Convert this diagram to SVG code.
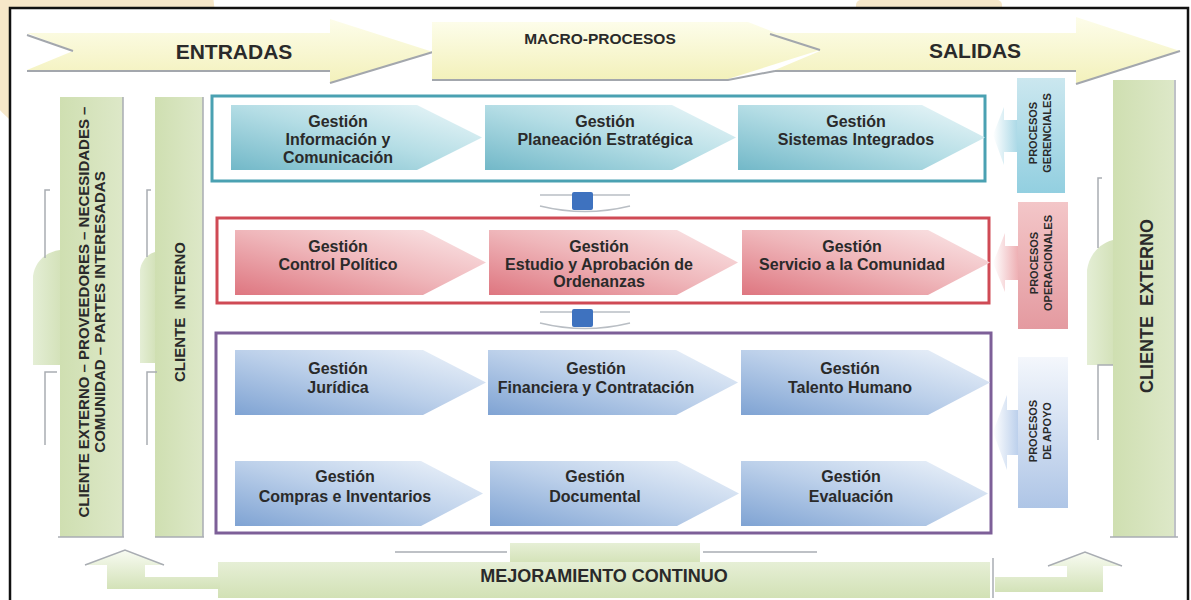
<svg xmlns="http://www.w3.org/2000/svg" width="1191" height="600" viewBox="0 0 1191 600">
<defs>
<linearGradient id="gY" x1="0" y1="0" x2="0" y2="1"><stop offset="0" stop-color="#fdfdea"/><stop offset="1" stop-color="#f3f1bb"/></linearGradient>
<linearGradient id="gG" x1="0" y1="0" x2="1" y2="0"><stop offset="0" stop-color="#cfdfb1"/><stop offset="1" stop-color="#dde8c8"/></linearGradient>
<linearGradient id="gGp" x1="0" y1="0" x2="1" y2="0"><stop offset="0" stop-color="#e4eed5"/><stop offset="1" stop-color="#d4e2ba"/></linearGradient>
<linearGradient id="gGv" x1="0" y1="0" x2="0" y2="1"><stop offset="0" stop-color="#e6efd6"/><stop offset="1" stop-color="#d2e1b5"/></linearGradient>
<linearGradient id="gT" x1="0" y1="1" x2="1" y2="0"><stop offset="0" stop-color="#72b8c8"/><stop offset="0.5" stop-color="#b4dde5"/><stop offset="1" stop-color="#eef8fa"/></linearGradient>
<linearGradient id="gR" x1="0" y1="1" x2="1" y2="0"><stop offset="0" stop-color="#de7680"/><stop offset="0.5" stop-color="#efb6ba"/><stop offset="1" stop-color="#fbe9ea"/></linearGradient>
<linearGradient id="gB" x1="0" y1="1" x2="1" y2="0"><stop offset="0" stop-color="#7fa3d3"/><stop offset="0.5" stop-color="#bcd0ea"/><stop offset="1" stop-color="#f0f5fb"/></linearGradient>
<linearGradient id="gLT" x1="0" y1="0" x2="0" y2="1"><stop offset="0" stop-color="#cbe7ef"/><stop offset="1" stop-color="#92cfe0"/></linearGradient>
<linearGradient id="gLR" x1="0" y1="0" x2="0" y2="1"><stop offset="0" stop-color="#f3c6c8"/><stop offset="1" stop-color="#e49aa0"/></linearGradient>
<linearGradient id="gLB" x1="0" y1="0" x2="0" y2="1"><stop offset="0" stop-color="#f4f7fc"/><stop offset="1" stop-color="#aec5e6"/></linearGradient>
<linearGradient id="gAT" x1="0" y1="0" x2="1" y2="0"><stop offset="0" stop-color="#ffffff"/><stop offset="1" stop-color="#a9d8e6"/></linearGradient>
<linearGradient id="gAR" x1="0" y1="0" x2="1" y2="0"><stop offset="0" stop-color="#ffffff"/><stop offset="1" stop-color="#eeb0b4"/></linearGradient>
<linearGradient id="gAB" x1="0" y1="0" x2="1" y2="0"><stop offset="0" stop-color="#ffffff"/><stop offset="1" stop-color="#bcd0ec"/></linearGradient>
<linearGradient id="gUp" x1="0" y1="0" x2="0" y2="1"><stop offset="0" stop-color="#f8fbf2"/><stop offset="1" stop-color="#d3e2b8"/></linearGradient>
<style>
.t{font-family:"Liberation Sans",Arial,sans-serif;font-weight:bold;fill:#2a2a2a}
.p{font-size:16px;text-anchor:middle}
.h{font-size:21px;text-anchor:middle}
.sh{fill:none;stroke:#a3a7ad;stroke-width:2}
.edge{fill:none;stroke:#a9adb3;stroke-width:1.5}
.fr{fill:none;stroke-width:3}
.lab{font-size:11px;text-anchor:middle}
</style>
</defs>

<!-- background & frame -->
<rect x="0" y="0" width="1191" height="600" fill="#ffffff"/>
<ellipse cx="90" cy="20" rx="125" ry="130" fill="#f6e7c9"/>
<rect x="856" y="0" width="146" height="12" rx="5" fill="#f6e7c9"/>
<rect x="10" y="8" width="1178" height="600" fill="#ffffff" stroke="#111111" stroke-width="2.5"/>

<!-- top arrows -->
<g id="entradas">
<polygon points="27,33 330,33 330,19 433,52 330,83 330,70 27,70 73,51" fill="url(#gY)"/>
<polyline class="sh" points="27,35 73,51"/>
<polyline class="sh" points="27,71 330,71"/>
<polyline class="sh" points="330,83 433,52"/>
<text class="t h" x="234" y="59">ENTRADAS</text>
</g>
<g id="salidas">
<polygon points="770,33 1076,33 1076,17 1180,51 1076,84 1076,70 775,70 820,51" fill="url(#gY)"/>
<polyline class="sh" points="775,71 1076,71"/>
<polyline class="sh" points="1076,84 1180,51"/>
<text class="t h" x="975" y="58">SALIDAS</text>
</g>
<g id="macro">
<polygon points="432,22 748,22 820,50 728,79 432,79" fill="url(#gY)"/>
<polyline class="sh" points="432,80 728,80 775,71"/>
<polyline class="sh" points="770,34 820,50"/>
<text class="t" x="600" y="44" font-size="15.5" text-anchor="middle">MACRO-PROCESOS</text>
</g>

<!-- left columns -->
<g id="col-externo-izq">
<path d="M60,250 C45,252 35,262 33,276 L33,365 L60,365 Z" fill="url(#gGp)"/>
<rect x="60" y="97" width="63" height="440" fill="url(#gG)"/>
<line class="edge" x1="123" y1="97" x2="123" y2="537"/>
<line class="edge" x1="58" y1="537" x2="124" y2="537"/>
<polyline class="edge" points="45,258 45,190 50,190"/>
<polyline class="edge" points="57,372 45,372 45,445"/>
<g transform="translate(91,312) rotate(-90)">
<text class="t" x="0" y="-2" font-size="15" text-anchor="middle">CLIENTE EXTERNO – PROVEEDORES – NECESIDADES –</text>
<text class="t" x="0" y="13.5" font-size="15" text-anchor="middle">COMUNIDAD – PARTES INTERESADAS</text>
</g>
</g>
<g id="col-interno">
<path d="M155,252 C147,254 141,262 140,270 L140,363 L155,363 Z" fill="url(#gGp)"/>
<rect x="155" y="97" width="48" height="440" fill="url(#gG)"/>
<line class="edge" x1="203" y1="97" x2="203" y2="537"/>
<line class="edge" x1="155" y1="537" x2="204" y2="537"/>
<polyline class="edge" points="147,257 147,190 151,190"/>
<polyline class="edge" points="157,372 147,372 147,445"/>
<text class="t" transform="translate(185,312) rotate(-90)" x="0" y="0" font-size="15" text-anchor="middle" xml:space="preserve">CLIENTE  INTERNO</text>
</g>

<!-- right column -->
<g id="col-externo-der">
<path d="M1113,240 C1098,244 1089,256 1087,270 L1087,365 L1113,365 Z" fill="url(#gGp)"/>
<rect x="1113" y="80" width="61" height="457" fill="url(#gG)"/>
<line class="edge" x1="1175" y1="80" x2="1175" y2="537"/>
<line class="edge" x1="1110" y1="537" x2="1178" y2="537"/>
<polyline class="edge" points="1098,248 1098,178 1102,178"/>
<polyline class="edge" points="1113,365 1098,365 1098,440"/>
<text class="t" transform="translate(1153,306) rotate(-90)" x="0" y="0" font-size="18" text-anchor="middle" xml:space="preserve">CLIENTE  EXTERNO</text>
</g>

<!-- process frames -->
<g id="frame-gerenciales"><rect class="fr" x="212" y="96" width="773" height="85" stroke="#4aa1b2"/></g>
<g id="frame-operacionales"><rect class="fr" x="217" y="218" width="772" height="85" stroke="#cf4a55"/></g>
<g id="frame-apoyo"><rect class="fr" x="216" y="333" width="775" height="200" stroke="#7d5f98"/></g>

<!-- connectors between frames -->
<g id="connectors">
<line x1="540" y1="195" x2="630" y2="195" stroke="#b9bec4" stroke-width="1.5"/>
<path d="M540,206 Q585,217 630,206" fill="none" stroke="#b9bec4" stroke-width="1.5"/>
<rect x="572" y="192" width="21" height="18" rx="2" fill="#3e72bf"/>
<line x1="540" y1="312" x2="630" y2="312" stroke="#b9bec4" stroke-width="1.5"/>
<path d="M540,323 Q585,334 630,323" fill="none" stroke="#b9bec4" stroke-width="1.5"/>
<rect x="572" y="309" width="21" height="18" rx="2" fill="#3e72bf"/>
</g>

<!-- teal row -->
<g id="g-informacion">
<polygon points="231,105 417,105 482,137.5 417,170 231,170" fill="url(#gT)"/>
<text class="t p" x="338" y="126.5">Gestión</text><text class="t p" x="338" y="144.5">Información y</text><text class="t p" x="338" y="162.5">Comunicación</text>
</g>
<g id="g-planeacion">
<polygon points="485,105 672,105 736,137.5 672,170 485,170" fill="url(#gT)"/>
<text class="t p" x="605" y="126.5">Gestión</text><text class="t p" x="605" y="144.5">Planeación Estratégica</text>
</g>
<g id="g-sistemas">
<polygon points="738,105 922,105 985,137.5 922,170 738,170" fill="url(#gT)"/>
<text class="t p" x="856" y="126.5">Gestión</text><text class="t p" x="856" y="144.5">Sistemas Integrados</text>
</g>

<!-- red row -->
<g id="g-control">
<polygon points="235,230 423,230 486,262.5 423,295 235,295" fill="url(#gR)"/>
<text class="t p" x="338" y="251.5">Gestión</text><text class="t p" x="338" y="269.5">Control Político</text>
</g>
<g id="g-estudio">
<polygon points="489,230 677,230 738,262.5 677,295 489,295" fill="url(#gR)"/>
<text class="t p" x="599" y="251.5">Gestión</text><text class="t p" x="599" y="269.5">Estudio y Aprobación de</text><text class="t p" x="599" y="287">Ordenanzas</text>
</g>
<g id="g-servicio">
<polygon points="742,230 928,230 990,262.5 928,295 742,295" fill="url(#gR)"/>
<text class="t p" x="852" y="251.5">Gestión</text><text class="t p" x="852" y="269.5">Servicio a la Comunidad</text>
</g>

<!-- purple row 1 -->
<g id="g-juridica">
<polygon points="235,350 423,350 486,382.5 423,415 235,415" fill="url(#gB)"/>
<text class="t p" x="338" y="373.5">Gestión</text><text class="t p" x="338" y="392.5">Jurídica</text>
</g>
<g id="g-financiera">
<polygon points="488,350 676,350 738,382.5 676,415 488,415" fill="url(#gB)"/>
<text class="t p" x="596" y="373.5">Gestión</text><text class="t p" x="596" y="392.5">Financiera y Contratación</text>
</g>
<g id="g-talento">
<polygon points="741,350 928,350 990,382.5 928,415 741,415" fill="url(#gB)"/>
<text class="t p" x="850" y="373.5">Gestión</text><text class="t p" x="850" y="392.5">Talento Humano</text>
</g>

<!-- purple row 2 -->
<g id="g-compras">
<polygon points="235,461 421,461 483,493.5 421,526 235,526" fill="url(#gB)"/>
<text class="t p" x="345" y="481.5">Gestión</text><text class="t p" x="345" y="501.5">Compras e Inventarios</text>
</g>
<g id="g-documental">
<polygon points="490,461 677,461 739,493.5 677,526 490,526" fill="url(#gB)"/>
<text class="t p" x="595" y="481.5">Gestión</text><text class="t p" x="595" y="501.5">Documental</text>
</g>
<g id="g-evaluacion">
<polygon points="741,461 926,461 988,493.5 926,526 741,526" fill="url(#gB)"/>
<text class="t p" x="851" y="481.5">Gestión</text><text class="t p" x="851" y="501.5">Evaluación</text>
</g>

<!-- side labels -->
<g id="lbl-gerenciales">
<polygon points="993,135 1004,107 1004,120 1018,120 1018,152 1004,152 1004,165" fill="url(#gAT)"/>
<rect x="1017" y="78" width="48" height="115" fill="url(#gLT)"/>
<g transform="translate(1041,133) rotate(-90)">
<text class="t lab" x="0" y="-4">PROCESOS</text><text class="t lab" x="0" y="10">GERENCIALES</text>
</g>
</g>
<g id="lbl-operacionales">
<polygon points="993,263 1005,233 1005,246 1018,246 1018,280 1005,280 1005,292" fill="url(#gAR)"/>
<rect x="1018" y="202" width="50" height="127" fill="url(#gLR)"/>
<g transform="translate(1042,263) rotate(-90)">
<text class="t lab" x="0" y="-4">PROCESOS</text><text class="t lab" x="0" y="10">OPERACIONALES</text>
</g>
</g>
<g id="lbl-apoyo">
<polygon points="993,432 1007,395 1007,410 1018,410 1018,455 1007,455 1007,470" fill="url(#gAB)"/>
<rect x="1018" y="357" width="50" height="151" fill="url(#gLB)"/>
<g transform="translate(1041,431) rotate(-90)">
<text class="t lab" x="0" y="-4">PROCESOS</text><text class="t lab" x="0" y="10">DE APOYO</text>
</g>
</g>

<!-- bottom -->
<g id="mejoramiento">
<rect x="510" y="543" width="190" height="22" fill="url(#gGv)"/>
<rect x="218" y="562" width="772" height="36" fill="url(#gGv)"/>
<line class="edge" x1="395" y1="552" x2="507" y2="552"/>
<line class="edge" x1="703" y1="552" x2="817" y2="552"/>
<line class="edge" x1="993" y1="558" x2="993" y2="598"/>
<text class="t" x="604" y="582" font-size="18" text-anchor="middle">MEJORAMIENTO CONTINUO</text>
</g>
<g id="flecha-izq">
<path d="M125,550 L164,565 L145,565 L145,577 L220,577 L220,589 L107,589 L107,565 L85,565 Z" fill="url(#gUp)"/>
<polyline class="edge" points="85,565 125,550 164,565"/>
</g>
<g id="flecha-der">
<path d="M1085,552 L1122,566 L1103,566 L1103,592 L995,592 L995,577 L1067,577 L1067,566 L1048,566 Z" fill="url(#gUp)"/>
<polyline class="edge" points="1048,566 1085,552 1122,566"/>
</g>
</svg>
